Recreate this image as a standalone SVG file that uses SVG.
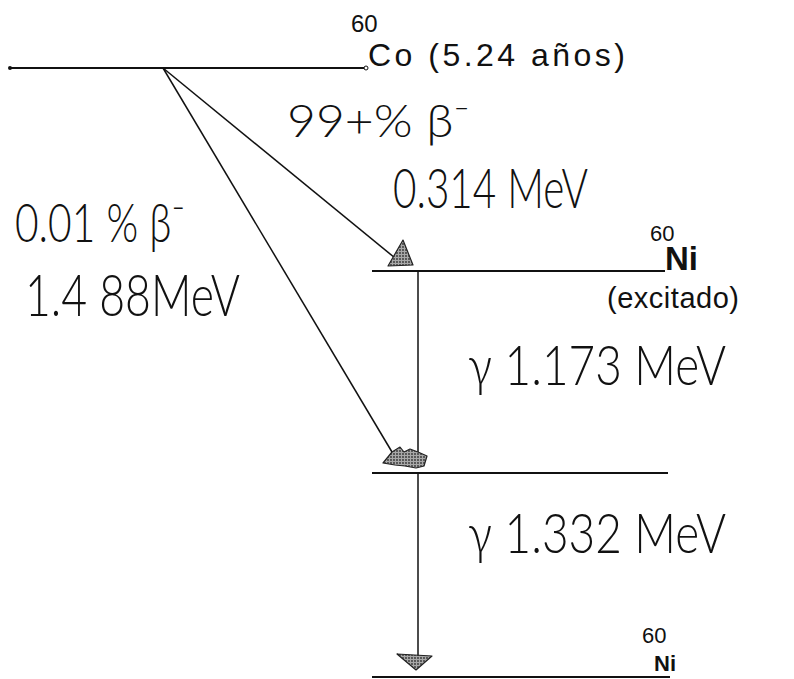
<svg xmlns="http://www.w3.org/2000/svg" width="794" height="679" viewBox="0 0 794 679">
<style>
  .lvl{stroke:#111;stroke-width:2;fill:none}
  .con{stroke:#111;stroke-width:1.5;fill:none}
  .hand{font-family:Lato,"Liberation Sans",Arial,sans-serif;font-weight:300;fill:#111}
  .typed{font-family:"Liberation Sans",Arial,sans-serif;fill:#111}
  .head{fill:url(#stip);stroke:#222;stroke-width:1.2;stroke-linejoin:round}
</style>
<defs>
  <pattern id="stip" width="3" height="3" patternUnits="userSpaceOnUse">
    <rect width="3" height="3" fill="#a8a8a8"/>
    <circle cx="1" cy="1" r="0.9" fill="#333"/>
  </pattern>
</defs>
<rect width="794" height="679" fill="#fff"/>

<g id="level-co60">
  <line class="lvl" x1="10" y1="68" x2="366" y2="68"/>
  <circle cx="10" cy="68" r="2" fill="#111"/>
  <circle cx="366" cy="68" r="2" fill="#fff" stroke="#111" stroke-width="1"/>
  <text class="typed" x="351" y="32" font-size="24">60</text>
  <text class="typed" x="368" y="66" font-size="32" textLength="257" lengthAdjust="spacing">Co (5.24 años)</text>
</g>

<g id="level-ni60-excited">
  <line class="lvl" x1="372" y1="271" x2="665" y2="271"/>
  <text class="typed" x="650" y="241" font-size="22">60</text>
  <text class="typed" x="665" y="270" font-size="33" font-weight="bold">Ni</text>
  <text class="typed" x="607" y="308" font-size="29" textLength="132" lengthAdjust="spacing">(excitado)</text>
</g>

<g id="level-ni60-mid">
  <line class="lvl" x1="372" y1="473" x2="668" y2="473"/>
</g>

<g id="level-ni60-ground">
  <line class="lvl" x1="372" y1="677" x2="670" y2="677"/>
  <text class="typed" x="642" y="643" font-size="22">60</text>
  <text class="typed" x="654" y="671" font-size="22" font-weight="bold">Ni</text>
</g>

<g id="connectors">
  <line class="con" x1="163" y1="68" x2="395" y2="258"/>
  <path class="head" d="M403,240 L388,266 L413,265 Z"/>
  <line class="con" x1="163" y1="68" x2="392" y2="452"/>
  <line class="con" x1="418" y1="271" x2="418" y2="452"/>
  <path class="head" d="M383,463 L392,452 L400,447 L404,452 L410,449 L418,452 L427,456 L424,466 L416,468 L405,466 L395,465 Z"/>
  <line class="con" x1="418" y1="473" x2="418" y2="656"/>
  <path class="head" d="M397,654 L432,656 L416,670 Z"/>
</g>

<g id="labels">
  <text class="hand" x="287" y="137" font-size="46" textLength="183" lengthAdjust="spacingAndGlyphs">99+% β⁻</text>
  <text class="hand" x="393" y="208" font-size="56" textLength="195" lengthAdjust="spacingAndGlyphs">0.314 MeV</text>
  <text class="hand" x="15" y="242" font-size="54" textLength="170" lengthAdjust="spacingAndGlyphs">0.01 % β⁻</text>
  <text class="hand" x="25" y="316" font-size="58" textLength="215" lengthAdjust="spacingAndGlyphs">1.4 88MeV</text>
  <text class="hand" x="468" y="385" font-size="56" textLength="258" lengthAdjust="spacingAndGlyphs">γ 1.173 MeV</text>
  <text class="hand" x="468" y="553" font-size="56" textLength="258" lengthAdjust="spacingAndGlyphs">γ 1.332 MeV</text>
</g>
</svg>
